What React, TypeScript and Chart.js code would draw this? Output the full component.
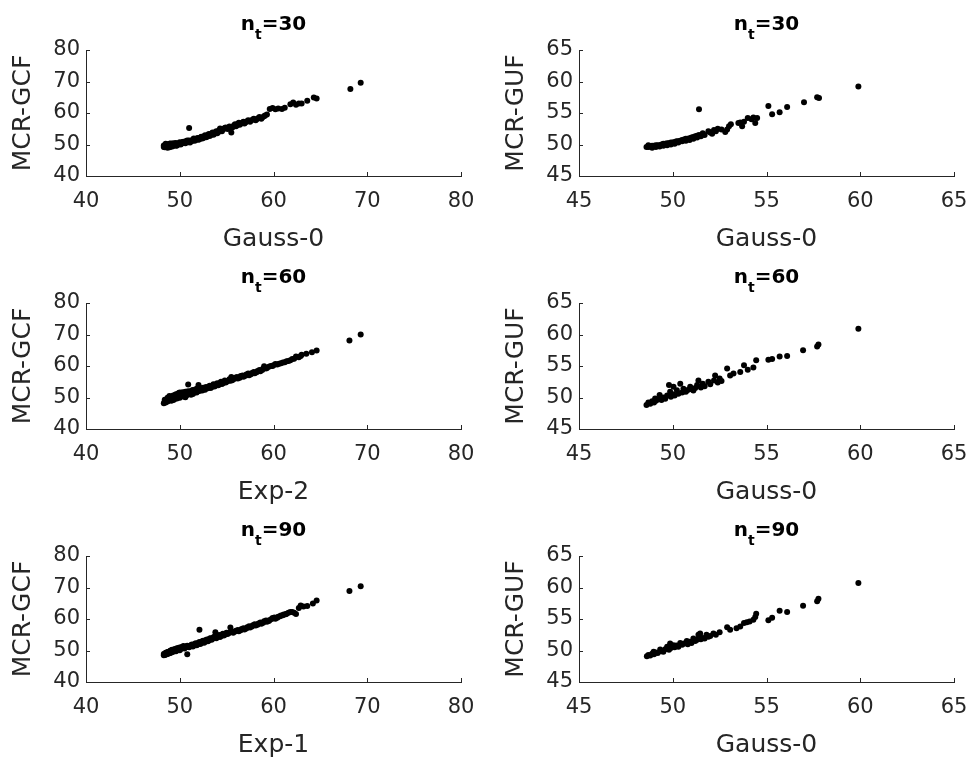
import React, { useEffect, useRef } from 'react';
import { Chart, registerables } from 'chart.js';

Chart.register(...registerables);

const FONT = "'DejaVu Sans', sans-serif";
const INK = '#262626';

// ---------- data ----------
// n_t = 30 : Gauss-0 vs MCR-GCF
const gcf30X = [48.3, 48.4, 48.5, 48.6, 48.7, 48.8, 48.9, 49.0, 49.1, 49.2, 49.3, 49.5, 49.6, 49.7, 49.9, 50.0, 50.2, 50.4, 50.5, 50.7, 50.9, 51.0, 51.2, 51.4, 51.6, 51.8, 52.0, 52.2, 52.4, 52.6, 52.8, 53.0, 53.2, 53.4, 53.6, 53.8, 54.0, 54.2, 54.3, 54.5, 54.7, 54.9, 55.1, 55.3, 55.5, 55.6, 55.8, 56.0, 56.2, 56.4, 56.7, 56.9, 57.2, 57.5, 57.8, 58.1, 58.4, 58.7, 59.0, 59.3, 59.6, 59.9, 60.2, 60.5, 60.9, 61.2, 61.8, 62.1, 62.4, 62.7, 63.0, 63.6, 64.3, 64.6, 68.2, 69.3, 51.0];
const gcf30Y = [49.2, 49.8, 49.4, 50.1, 49.0, 49.6, 50.2, 49.3, 49.9, 50.3, 49.6, 50.0, 50.5, 49.7, 50.2, 50.7, 50.3, 50.9, 50.5, 51.1, 50.7, 51.3, 51.0, 51.6, 51.2, 51.8, 51.5, 52.2, 51.9, 52.6, 52.3, 53.0, 52.7, 53.5, 53.1, 53.9, 53.6, 54.5, 55.1, 54.2, 55.0, 55.4, 54.9, 55.7, 53.8, 55.4, 56.1, 55.8, 56.6, 56.3, 57.0, 56.7, 57.4, 57.2, 57.9, 57.7, 58.4, 58.2, 59.0, 59.5, 61.3, 61.6, 61.2, 61.4, 61.3, 61.7, 62.8, 63.3, 62.6, 63.0, 63.0, 63.9, 64.9, 64.6, 67.6, 69.6, 55.2];
const gcf30BandX = [48.3, 48.4, 48.5, 48.6, 48.7, 48.9, 49.0, 49.2, 49.4, 49.6, 49.8, 50.1, 50.3, 50.6, 50.8, 51.1, 51.3, 51.5, 51.7, 51.9, 52.1, 52.3, 52.5, 52.7, 52.9, 53.1, 53.3, 53.5, 53.7, 53.9, 54.1, 54.4, 54.6, 54.8, 55.2, 55.4, 55.7, 55.9, 56.1, 56.3, 56.5, 56.8, 57.0, 57.3, 57.6, 57.9, 58.2, 58.5, 58.8, 59.1];
const gcf30BandY = [49.7, 49.1, 50.2, 49.3, 49.8, 49.1, 50.3, 49.4, 50.4, 49.6, 50.0, 50.0, 50.8, 50.4, 51.3, 50.6, 51.1, 51.9, 51.4, 52.1, 51.7, 52.5, 52.1, 52.9, 52.5, 53.3, 53.0, 53.8, 53.4, 54.2, 53.9, 54.6, 54.8, 55.2, 55.3, 55.0, 55.7, 56.4, 56.1, 56.9, 56.6, 57.2, 57.0, 57.7, 57.6, 58.2, 58.0, 58.7, 58.6, 59.2];

// n_t = 30 : Gauss-0 vs MCR-GUF
const guf30X = [48.6, 48.7, 48.8, 48.9, 49.0, 49.1, 49.2, 49.3, 49.4, 49.5, 49.6, 49.7, 49.8, 49.9, 50.0, 50.1, 50.2, 50.3, 50.4, 50.5, 50.6, 50.7, 50.8, 50.9, 51.0, 51.1, 51.2, 51.3, 51.4, 51.4, 51.5, 51.6, 51.7, 51.9, 52.1, 52.3, 52.4, 52.6, 52.8, 52.9, 53.0, 53.1, 53.5, 53.6, 53.8, 53.7, 54.0, 54.2, 54.3, 54.4, 54.5, 55.1, 55.3, 55.7, 56.1, 57.0, 57.7, 57.8, 59.9];
const guf30Y = [49.6, 49.9, 49.7, 49.5, 49.8, 49.6, 49.9, 49.7, 50.0, 49.8, 50.1, 49.9, 50.2, 50.0, 50.3, 50.1, 50.5, 50.3, 50.6, 50.5, 50.8, 50.6, 50.9, 50.7, 51.1, 50.9, 51.3, 51.1, 51.5, 55.6, 51.3, 51.8, 51.5, 52.1, 51.7, 52.1, 52.5, 52.4, 52.0, 52.4, 52.9, 53.2, 53.4, 53.5, 53.6, 52.9, 54.2, 54.0, 54.3, 53.4, 54.2, 56.1, 54.8, 55.1, 55.95, 56.7, 57.5, 57.4, 59.2];
const guf30BandX = [48.7, 48.9, 49.1, 49.3, 49.5, 49.7, 49.9, 50.1, 50.3, 50.5, 50.7, 50.9, 51.1, 51.3, 51.6, 52.0, 52.2];
const guf30BandY = [49.6, 49.8, 49.9, 49.9, 50.1, 50.2, 50.3, 50.4, 50.5, 50.7, 50.9, 51.0, 51.2, 51.4, 51.6, 51.9, 52.3];

// n_t = 60 : Exp-2 vs MCR-GCF
const gcf60X = [48.3, 48.4, 48.5, 48.6, 48.7, 48.8, 48.9, 49.0, 49.1, 49.2, 49.3, 49.4, 49.5, 49.6, 49.7, 49.8, 49.9, 50.0, 50.1, 50.3, 50.4, 50.5, 50.7, 50.8, 50.9, 51.0, 51.2, 51.3, 51.5, 51.7, 51.8, 52.0, 52.1, 52.3, 52.4, 52.6, 52.8, 53.0, 53.2, 53.4, 53.6, 53.8, 54.0, 54.2, 54.4, 54.6, 54.8, 55.0, 55.3, 55.5, 55.6, 55.9, 56.2, 56.5, 56.8, 57.1, 57.4, 57.7, 58.0, 58.3, 58.6, 58.9, 59.0, 59.3, 59.7, 60.0, 60.4, 60.8, 61.2, 61.6, 62.0, 62.4, 62.7, 63.0, 63.5, 64.1, 64.6, 68.1, 69.3];
const gcf60Y = [48.2, 48.8, 48.4, 49.3, 48.7, 49.8, 49.1, 50.2, 49.0, 49.6, 50.6, 49.4, 50.1, 51.0, 49.7, 50.5, 51.4, 49.9, 50.9, 51.7, 50.3, 51.2, 50.6, 51.9, 54.1, 51.4, 50.9, 52.2, 51.5, 52.6, 51.6, 54.0, 52.1, 52.9, 52.2, 52.7, 53.3, 52.9, 53.7, 53.3, 54.2, 53.7, 54.5, 54.1, 55.0, 54.5, 55.4, 55.0, 55.8, 56.5, 55.5, 56.3, 56.0, 56.8, 56.6, 57.3, 57.1, 57.8, 57.7, 58.4, 58.3, 59.2, 59.9, 59.4, 60.0, 60.2, 60.5, 60.9, 61.2, 61.6, 62.2, 63.0, 62.8, 63.6, 63.9, 64.4, 64.9, 68.1, 70.0];
const gcf60BandX = [48.4, 48.6, 48.7, 48.9, 49.0, 49.2, 49.3, 49.5, 49.6, 49.8, 49.9, 50.0, 50.2, 50.2, 50.4, 50.6, 50.6, 50.9, 51.0, 51.1, 51.4, 51.4, 51.6, 51.9, 51.9, 52.2, 52.5, 52.7, 52.9, 53.1, 53.3, 53.5, 53.7, 53.9, 54.1, 54.3, 54.5, 54.7, 54.9, 55.2, 55.4, 55.8, 56.1, 56.4, 56.7, 57.0, 57.3, 57.6, 57.9, 58.2, 58.5, 58.8, 59.2, 59.5, 59.9, 60.2, 60.6, 61.0, 61.4, 61.8, 62.2, 62.9];
const gcf60BandY = [49.3, 48.9, 49.9, 50.5, 49.5, 50.3, 49.2, 50.8, 49.9, 51.2, 50.2, 51.6, 50.4, 51.3, 51.0, 51.8, 50.1, 51.0, 52.0, 51.2, 52.4, 51.1, 52.0, 52.9, 52.0, 52.5, 53.1, 52.5, 53.0, 53.5, 53.0, 53.8, 53.5, 54.2, 53.9, 54.6, 54.3, 55.0, 54.8, 55.3, 55.3, 55.9, 56.5, 56.3, 57.0, 56.9, 57.6, 57.4, 58.1, 58.0, 58.7, 58.7, 59.2, 59.8, 60.0, 60.6, 60.7, 61.1, 61.5, 61.8, 62.3, 63.2];

// n_t = 60 : Gauss-0 vs MCR-GUF
const guf60X = [48.6, 48.7, 48.8, 48.9, 49.0, 49.06, 49.1, 49.2, 49.3, 49.4, 49.5, 49.6, 49.7, 49.8, 49.86, 49.9, 50.0, 50.04, 50.1, 50.22, 50.3, 50.4, 50.5, 50.57, 50.6, 50.7, 50.8, 50.93, 51.0, 51.1, 51.2, 51.3, 51.37, 51.5, 51.6, 51.7, 51.9, 52.0, 52.2, 52.26, 52.4, 52.5, 52.6, 52.9, 53.06, 53.24, 53.6, 53.8, 54.0, 54.3, 54.45, 55.1, 55.3, 55.7, 56.1, 56.95, 57.7, 57.77, 59.9];
const guf60Y = [48.8, 49.2, 49.0, 49.4, 49.2, 49.85, 49.5, 49.7, 50.4, 49.6, 50.0, 49.8, 50.3, 52.0, 50.9, 50.1, 50.5, 51.7, 50.3, 51.15, 50.6, 52.2, 50.8, 51.4, 51.0, 50.9, 51.2, 51.7, 51.3, 51.1, 51.5, 52.0, 52.7, 51.6, 52.2, 51.8, 52.5, 52.1, 52.7, 53.5, 52.4, 53.0, 52.6, 54.6, 53.5, 53.8, 54.05, 55.1, 54.4, 54.75, 55.9, 56.0, 56.1, 56.5, 56.6, 57.5, 58.1, 58.4, 60.9];

// n_t = 90 : Exp-1 vs MCR-GCF
const gcf90X = [48.3, 48.4, 48.5, 48.6, 48.7, 48.8, 48.9, 49.0, 49.1, 49.2, 49.3, 49.4, 49.5, 49.6, 49.8, 49.9, 50.0, 50.2, 50.3, 50.5, 50.6, 50.8, 50.8, 51.0, 51.2, 51.4, 51.6, 51.8, 52.0, 52.1, 52.2, 52.4, 52.6, 52.8, 53.0, 53.2, 53.4, 53.6, 53.8, 53.9, 54.1, 54.3, 54.5, 54.7, 54.9, 55.1, 55.4, 55.4, 55.7, 56.0, 56.3, 56.6, 56.9, 57.2, 57.5, 57.8, 58.1, 58.4, 58.7, 59.0, 59.3, 59.6, 59.9, 60.2, 60.5, 60.8, 61.1, 61.4, 61.8, 62.2, 62.4, 62.7, 62.9, 63.2, 63.6, 64.2, 64.6, 68.1, 69.3];
const gcf90Y = [48.5, 49.0, 48.7, 49.3, 48.9, 49.6, 49.1, 49.9, 49.4, 50.2, 49.6, 50.0, 50.5, 49.8, 50.4, 50.9, 50.1, 50.7, 51.2, 50.6, 51.0, 48.8, 51.5, 51.0, 51.7, 51.3, 52.1, 51.7, 52.5, 56.6, 52.1, 52.9, 52.5, 53.3, 52.9, 53.8, 53.4, 54.2, 55.8, 53.9, 54.6, 54.3, 55.0, 54.8, 55.4, 55.2, 57.3, 55.8, 55.6, 56.3, 56.1, 56.8, 56.7, 57.4, 57.3, 58.0, 57.9, 58.6, 58.5, 59.3, 59.1, 59.7, 60.3, 60.1, 60.7, 61.1, 61.4, 61.7, 62.2, 62.0, 61.6, 63.5, 64.3, 64.0, 64.1, 64.9, 65.9, 68.9, 70.4];
const gcf90BandX = [48.3, 48.4, 48.5, 48.6, 48.7, 48.9, 49.0, 49.1, 49.2, 49.4, 49.5, 49.7, 49.7, 49.9, 50.1, 50.1, 50.4, 50.4, 50.7, 50.9, 51.1, 51.3, 51.5, 51.7, 51.9, 52.1, 52.3, 52.5, 52.7, 52.9, 53.1, 53.3, 53.5, 53.7, 54.0, 54.2, 54.4, 54.6, 54.8, 55.0, 55.2, 55.6, 55.9, 56.2, 56.5, 56.8, 57.1, 57.4, 57.7, 58.0, 58.3, 58.6, 58.9, 59.2, 59.5, 59.8, 60.1, 60.4, 60.7, 61.0, 61.3, 61.6, 62.0];
const gcf90BandY = [48.9, 48.6, 49.3, 48.8, 49.5, 49.7, 49.3, 50.1, 49.6, 50.3, 49.9, 50.7, 50.1, 50.4, 51.0, 50.5, 50.8, 51.4, 51.3, 51.1, 51.5, 51.9, 51.6, 52.3, 51.9, 52.7, 52.4, 53.1, 52.8, 53.5, 53.2, 53.9, 53.7, 54.4, 54.2, 54.9, 54.6, 55.3, 55.0, 55.6, 55.5, 56.0, 56.0, 56.5, 56.4, 57.1, 57.0, 57.7, 57.6, 58.3, 58.2, 58.9, 58.8, 59.5, 59.4, 60.0, 60.5, 60.4, 60.9, 61.2, 61.5, 62.0, 62.2];

// n_t = 90 : Gauss-0 vs MCR-GUF
const guf90X = [48.62, 48.7, 48.8, 48.9, 48.98, 49.0, 49.1, 49.2, 49.33, 49.4, 49.5, 49.6, 49.7, 49.8, 49.86, 49.9, 50.04, 50.1, 50.2, 50.3, 50.4, 50.5, 50.6, 50.75, 50.8, 50.9, 51.0, 51.1, 51.2, 51.3, 51.37, 51.46, 51.5, 51.6, 51.7, 51.8, 51.9, 52.0, 52.17, 52.3, 52.5, 52.9, 53.06, 53.4, 53.6, 53.8, 53.95, 54.1, 54.3, 54.4, 54.45, 55.1, 55.3, 55.7, 56.1, 56.95, 57.7, 57.77, 59.9];
const guf90Y = [49.1, 49.3, 49.2, 49.5, 49.8, 49.4, 49.7, 49.6, 50.15, 49.9, 49.8, 50.2, 50.6, 50.1, 51.1, 50.4, 50.85, 50.5, 50.8, 50.6, 51.2, 50.9, 51.1, 51.5, 51.0, 51.4, 51.2, 51.9, 51.5, 51.7, 52.5, 52.7, 51.8, 52.0, 51.9, 52.5, 52.2, 52.3, 52.7, 52.5, 52.9, 53.7, 53.3, 53.55, 53.8, 54.35, 54.5, 54.6, 54.9, 55.3, 55.85, 54.8, 55.2, 56.3, 56.1, 57.1, 57.8, 58.2, 60.7];

// panel texts (row-major: left, right per row)
const panelNt = ['30', '30', '60', '60', '90', '90'];
const panelXLabels = ['Gauss-0', 'Gauss-0', 'Exp-2', 'Gauss-0', 'Exp-1', 'Gauss-0'];
const panelYLabels = ['MCR-GCF', 'MCR-GUF', 'MCR-GCF', 'MCR-GUF', 'MCR-GCF', 'MCR-GUF'];
const panelXs = [gcf30X.concat(gcf30BandX), guf30X.concat(guf30BandX), gcf60X.concat(gcf60BandX), guf60X, gcf90X.concat(gcf90BandX), guf90X];
const panelYs = [gcf30Y.concat(gcf30BandY), guf30Y.concat(guf30BandY), gcf60Y.concat(gcf60BandY), guf60Y, gcf90Y.concat(gcf90BandY), guf90Y];

// axis ranges: [min, max, step]
const gcfRange = [40, 80, 10];
const gufRange = [45, 65, 5];

// ---------- layout ----------
const COL_L = [86, 579];
const COL_R = [461, 954];
const ROW_T = [50, 303, 556];
const ROW_B = [176, 429, 682];
const Y_W = 86;
const TOP_PAD = 50;
const X_H = 78;
const RIGHT_PAD = [20, 15];

const tickMarks = {
  id: 'inTicks',
  afterDraw(chart: any) {
    const { ctx, chartArea, scales } = chart;
    ctx.save();
    ctx.strokeStyle = INK;
    ctx.lineWidth = 1;
    ctx.beginPath();
    const sx = scales.x;
    sx.ticks.forEach((_: any, i: number) => {
      const p = Math.round(sx.getPixelForTick(i)) + 0.5;
      ctx.moveTo(p, chartArea.bottom);
      ctx.lineTo(p, chartArea.bottom - 4);
    });
    const sy = scales.y;
    sy.ticks.forEach((_: any, i: number) => {
      const p = Math.round(sy.getPixelForTick(i)) + 0.5;
      ctx.moveTo(chartArea.left, p);
      ctx.lineTo(chartArea.left + 4, p);
    });
    ctx.stroke();
    ctx.restore();
  },
};

function makeTitlePlugin(nt: string) {
  return {
    id: 'ntTitle',
    afterDraw(chart: any) {
      const { ctx, chartArea } = chart;
      const big = `bold 20px ${FONT}`;
      const small = `bold 14px ${FONT}`;
      const rest = '=' + nt;
      ctx.save();
      ctx.fillStyle = '#000';
      ctx.textBaseline = 'alphabetic';
      ctx.textAlign = 'left';
      ctx.font = big;
      const wN = ctx.measureText('n').width;
      const wR = ctx.measureText(rest).width;
      ctx.font = small;
      const wT = ctx.measureText('t').width;
      let x = (chartArea.left + chartArea.right) / 2 - (wN + wT + wR) / 2;
      const base = chartArea.top - 20;
      ctx.font = big;
      ctx.fillText('n', x, base);
      x += wN;
      ctx.font = small;
      ctx.fillText('t', x, base + 9);
      x += wT;
      ctx.font = big;
      ctx.fillText(rest, x, base);
      ctx.restore();
    },
  };
}

function Panel({ idx }: { idx: number }) {
  const ref = useRef<HTMLCanvasElement | null>(null);
  const col = idx % 2;
  const row = Math.floor(idx / 2);
  const left = COL_L[col] - Y_W;
  const top = ROW_T[row] - TOP_PAD;
  const width = Y_W + (COL_R[col] - COL_L[col]) + RIGHT_PAD[col];
  const height = TOP_PAD + (ROW_B[row] - ROW_T[row]) + X_H;

  useEffect(() => {
    if (!ref.current) return;
    const range = col === 0 ? gcfRange : gufRange;
    const xs = panelXs[idx];
    const ys = panelYs[idx];
    const pts = xs.map((x, i) => ({ x, y: ys[i] }));
    const chart = new Chart(ref.current, {
      type: 'scatter',
      data: {
        datasets: [
          {
            data: pts,
            pointRadius: 3,
            pointHoverRadius: 3,
            pointBackgroundColor: '#000',
            pointBorderWidth: 0,
            borderColor: '#000',
            backgroundColor: '#000',
          },
        ],
      },
      options: {
        animation: false,
        responsive: false,
        devicePixelRatio: 1,
        events: [],
        layout: { padding: { left: 0, top: TOP_PAD, right: RIGHT_PAD[col], bottom: 0 } },
        plugins: {
          legend: { display: false },
          tooltip: { enabled: false },
          title: { display: false },
        },
        scales: {
          x: {
            type: 'linear',
            position: 'bottom',
            min: range[0],
            max: range[1],
            ticks: {
              stepSize: range[2],
              font: { family: FONT, size: 21 },
              color: INK,
              padding: 13,
              maxRotation: 0,
              autoSkip: false,
            },
            grid: { drawOnChartArea: false, drawTicks: false, color: INK },
            border: { display: true, color: INK, width: 1 },
            title: {
              display: true,
              text: panelXLabels[idx],
              color: INK,
              font: { family: FONT, size: 25 },
              padding: { top: 0, bottom: 0 },
            },
            afterFit: (s: any) => {
              s.height = X_H;
              s.paddingLeft = 0;
              s.paddingRight = 0;
            },
          },
          y: {
            type: 'linear',
            position: 'left',
            min: range[0],
            max: range[1],
            ticks: {
              stepSize: range[2],
              font: { family: FONT, size: 21 },
              color: INK,
              padding: 6,
              autoSkip: false,
            },
            grid: { drawOnChartArea: false, drawTicks: false, color: INK },
            border: { display: true, color: INK, width: 1 },
            title: {
              display: true,
              text: panelYLabels[idx],
              color: INK,
              font: { family: FONT, size: 25 },
              padding: { top: 8, bottom: 0 },
            },
            afterFit: (s: any) => {
              s.width = Y_W;
              s.paddingTop = 0;
              s.paddingBottom = 0;
            },
          },
        },
      } as any,
      plugins: [tickMarks, makeTitlePlugin(panelNt[idx])],
    });
    return () => chart.destroy();
  }, [idx]);

  return (
    <canvas
      ref={ref}
      width={width}
      height={height}
      style={{ position: 'absolute', left, top, width, height }}
    />
  );
}

export default function App() {
  return (
    <div
      style={{
        position: 'absolute',
        left: 0,
        top: 0,
        width: 969,
        height: 760,
        overflow: 'hidden',
        background: '#fff',
      }}
    >
      {[0, 1, 2, 3, 4, 5].map((i) => (
        <Panel key={i} idx={i} />
      ))}
    </div>
  );
}
